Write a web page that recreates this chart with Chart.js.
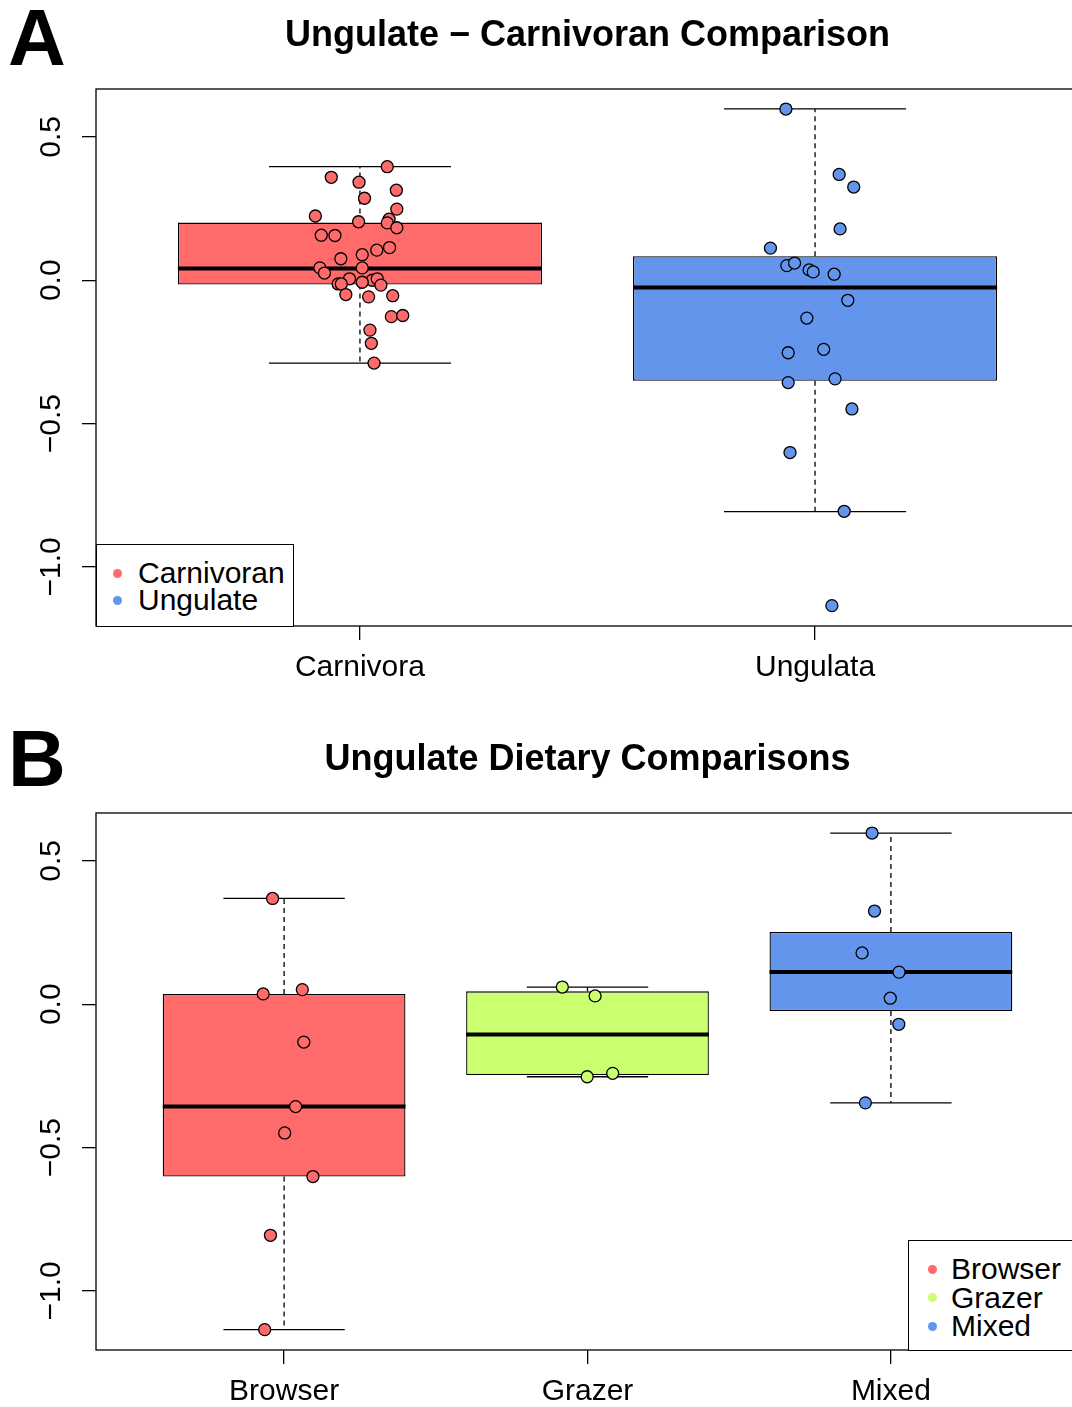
<!DOCTYPE html>
<html>
<head>
<meta charset="utf-8">
<script src="https://cdn.jsdelivr.net/npm/chart.js@4.4.0/dist/chart.umd.min.js"></script>
<style>
  html, body { margin: 0; padding: 0; background: #fff; width: 1072px; height: 1407px; overflow: hidden; }
  body { position: relative; font-family: "Liberation Sans", Arial, sans-serif; }
  .panel { position: absolute; left: 0; width: 1175px; height: 710px; }
  #panelA { top: 0; }
  #panelB { top: 724px; }
  .letter { position: absolute; left: 8px; font-weight: bold; font-size: 80px; line-height: 1; }
  .legend { position: absolute; box-sizing: border-box; border: 1.3px solid #000; background: #fff; }
  .legend span { position: absolute; white-space: nowrap; }
  .legend .txt { font-size: 30px; line-height: 30px; }
  .legend .dot { width: 9px; height: 9px; border-radius: 50%; }
</style>
</head>
<body>
<div class="letter" style="top:-2px">A</div>
<div class="letter" style="top:719px">B</div>
<div class="panel" id="panelA"><canvas id="chartA"></canvas></div>
<div class="panel" id="panelB"><canvas id="chartB"></canvas></div>
<div class="legend" id="legA"></div>
<div class="legend" id="legB"></div>
<script>
// ---- panel A: carnivoran vs ungulate ----
const groupCats = ['Carnivora', 'Ungulata'];
const groupNames = ['Carnivoran', 'Ungulate'];
const groupColors = ['#FF6A6A', '#6495ED'];
const groupMin = [-0.289, -0.807];
const groupQ1 = [-0.015, -0.351];
const groupMed = [0.041, -0.025];
const groupQ3 = [0.201, 0.084];
const groupMax = [0.396, 0.598];

const carnivoraVals = [0.396, 0.359, 0.342, 0.314, 0.286, 0.248, 0.224, 0.204, 0.213, 0.200,
  0.183, 0.157, 0.156, 0.114, 0.105, 0.089, 0.075, 0.043, 0.043, 0.025,
  0.005, 0.000, 0.005, -0.013, -0.013, -0.007, -0.017, -0.050, -0.058, -0.054,
  -0.127, -0.123, -0.174, -0.220, -0.289];
const carnivoraJit = [0.060, -0.063, -0.002, 0.080, 0.010, 0.081, -0.098, -0.003, 0.064, 0.060,
  0.081, -0.085, -0.055, 0.065, 0.037, 0.005, -0.042, 0.005, -0.088, -0.078,
  -0.023, 0.027, 0.038, -0.048, -0.041, 0.005, 0.046, -0.031, 0.019, 0.072,
  0.069, 0.094, 0.022, 0.025, 0.031];
const ungulataVals = [0.597, 0.369, 0.325, 0.179, 0.112, 0.051, 0.060, 0.036, 0.029, 0.021,
  -0.070, -0.132, -0.241, -0.253, -0.357, -0.344, -0.449, -0.601, -0.806, -1.135];
const ungulataJit = [-0.064, 0.053, 0.085, 0.055, -0.098, -0.062, -0.045, -0.013, -0.004, 0.042,
  0.072, -0.018, 0.019, -0.059, -0.059, 0.044, 0.081, -0.055, 0.064, 0.037];

// ---- panel B: ungulate diets ----
const dietCats = ['Browser', 'Grazer', 'Mixed'];
const dietColors = ['#FF6A6A', '#CAFF70', '#6495ED'];
const dietMin = [-1.135, -0.253, -0.344];
const dietQ1 = [-0.601, -0.247, -0.024];
const dietMed = [-0.357, -0.106, 0.112];
const dietQ3 = [0.036, 0.045, 0.252];
const dietMax = [0.369, 0.060, 0.597];

const browserVals = [0.369, 0.036, 0.051, -0.132, -0.357, -0.449, -0.601, -0.806, -1.135];
const browserJit = [-0.038, -0.069, 0.060, 0.065, 0.038, 0.002, 0.095, -0.045, -0.064];
const grazerVals = [0.060, 0.029, -0.253, -0.241];
const grazerJit = [-0.083, 0.025, -0.001, 0.083];
const mixedVals = [0.597, 0.325, 0.179, 0.112, 0.021, -0.070, -0.344];
const mixedJit = [-0.062, -0.054, -0.095, 0.027, -0.002, 0.026, -0.084];

const yTicks = [-1.0, -0.5, 0.0, 0.5];
const yMin = -1.206, yMax = 0.667;

Chart.defaults.font.family = "'Liberation Sans', Arial, sans-serif";
Chart.defaults.color = '#000';

const fmt = v => (v < 0 ? '\u2212' : '') + Math.abs(v).toFixed(1);

// whiskers, caps and medians, drawn right after the boxes (dataset 0)
function boxPlugin(st) {
  return {
    id: 'boxWhiskers',
    afterDatasetDraw(chart, args) {
      if (args.index !== 0) return;
      const { ctx, scales: { x, y } } = chart;
      const seg = (x1, y1, x2, y2) => { ctx.beginPath(); ctx.moveTo(x1, y1); ctx.lineTo(x2, y2); ctx.stroke(); };
      ctx.save();
      ctx.strokeStyle = '#000';
      st.med.forEach((m, i) => {
        const c = i + 1;
        const px = x.getPixelForValue(c);
        ctx.lineWidth = 1.3;
        ctx.setLineDash([5, 4]);
        seg(px, y.getPixelForValue(st.q3[i]), px, y.getPixelForValue(st.max[i]));
        seg(px, y.getPixelForValue(st.q1[i]), px, y.getPixelForValue(st.min[i]));
        ctx.setLineDash([]);
        seg(x.getPixelForValue(c - 0.2), y.getPixelForValue(st.max[i]), x.getPixelForValue(c + 0.2), y.getPixelForValue(st.max[i]));
        seg(x.getPixelForValue(c - 0.2), y.getPixelForValue(st.min[i]), x.getPixelForValue(c + 0.2), y.getPixelForValue(st.min[i]));
        ctx.lineWidth = 4;
        seg(x.getPixelForValue(c - 0.4), y.getPixelForValue(m), x.getPixelForValue(c + 0.4), y.getPixelForValue(m));
      });
      ctx.restore();
    }
  };
}

const framePlugin = {
  id: 'frame',
  beforeDatasetsDraw(chart) {
    const { ctx, chartArea: a } = chart;
    ctx.save();
    ctx.strokeStyle = '#000';
    ctx.lineWidth = 1.3;
    ctx.strokeRect(a.left, a.top, a.right - a.left, a.bottom - a.top);
    ctx.restore();
  }
};

function makePanel(id, title, cats, colors, st, points) {
  const n = cats.length;
  const pad = 0.04 * n;
  const datasets = [{
    type: 'bar',
    order: 2,
    data: cats.map((c, i) => ({ x: i + 1, y: [st.q1[i], st.q3[i]] })),
    backgroundColor: colors,
    borderColor: '#000',
    borderWidth: 1.3,
    borderSkipped: false,
    barPercentage: 0.8,
    categoryPercentage: 1.0
  }];
  points.forEach((g, i) => {
    datasets.push({
      type: 'scatter',
      order: 1,
      data: g.vals.map((v, j) => ({ x: i + 1 + g.jit[j], y: v })),
      backgroundColor: colors[i],
      borderColor: '#000',
      borderWidth: 1.3,
      pointRadius: 6
    });
  });
  const tickGrid = { drawOnChartArea: false, drawTicks: true, tickLength: 14, color: '#000', lineWidth: 1.3, offset: false };
  return new Chart(document.getElementById(id), {
    type: 'bar',
    data: { datasets },
    options: {
      responsive: true,
      maintainAspectRatio: false,
      animation: false,
      events: [],
      layout: { padding: 0 },
      plugins: {
        legend: { display: false },
        tooltip: { enabled: false },
        title: {
          display: true, text: title, color: '#000',
          font: { size: 36, weight: 'bold' },
          padding: { top: 14, bottom: 31.8 }
        }
      },
      scales: {
        x: {
          type: 'linear', min: 0.5 - pad, max: n + 0.5 + pad, offset: false,
          afterBuildTicks: s => { s.ticks = cats.map((c, i) => ({ value: i + 1 })); },
          afterFit: s => { s.height = 84; },
          ticks: { callback: (v, i) => cats[i], font: { size: 30 }, padding: 10, maxRotation: 0, autoSkip: false },
          grid: tickGrid,
          border: { display: false }
        },
        y: {
          type: 'linear', min: yMin, max: yMax,
          afterBuildTicks: s => { s.ticks = yTicks.map(v => ({ value: v })); },
          afterFit: s => { s.width = 96; },
          ticks: { callback: v => fmt(v), font: { size: 30 }, minRotation: 90, maxRotation: 90, crossAlign: 'center', padding: 1 },
          grid: tickGrid,
          border: { display: false }
        },
        y2: {
          type: 'linear', position: 'right', display: true,
          ticks: { display: false }, grid: { display: false }, border: { display: false },
          afterFit: s => { s.width = 96; }
        }
      }
    },
    plugins: [framePlugin, boxPlugin(st)]
  });
}

makePanel('chartA', 'Ungulate \u2212 Carnivoran Comparison', groupCats, groupColors,
  { min: groupMin, q1: groupQ1, med: groupMed, q3: groupQ3, max: groupMax },
  [{ vals: carnivoraVals, jit: carnivoraJit }, { vals: ungulataVals, jit: ungulataJit }]);

makePanel('chartB', 'Ungulate Dietary Comparisons', dietCats, dietColors,
  { min: dietMin, q1: dietQ1, med: dietMed, q3: dietQ3, max: dietMax },
  [{ vals: browserVals, jit: browserJit }, { vals: grazerVals, jit: grazerJit }, { vals: mixedVals, jit: mixedJit }]);

// R-style legends inside the plot frame
function legend(id, box, labels, colors, rowY, gap, dotX, textX) {
  const el = document.getElementById(id);
  Object.assign(el.style, { left: box[0] + 'px', top: box[1] + 'px', width: box[2] + 'px', height: box[3] + 'px' });
  labels.forEach((lab, i) => {
    const cy = rowY + i * gap - box[1];
    const dot = document.createElement('span');
    dot.className = 'dot';
    dot.style.background = colors[i];
    dot.style.left = (dotX - box[0] - 4.5) + 'px';
    dot.style.top = (cy - 4.5) + 'px';
    const t = document.createElement('span');
    t.className = 'txt';
    t.textContent = lab;
    t.style.left = (textX - box[0]) + 'px';
    t.style.top = (cy - 15) + 'px';
    el.appendChild(dot);
    el.appendChild(t);
  });
}
legend('legA', [96, 544, 198, 83], groupNames, groupColors, 572, 27, 116, 137);
legend('legB', [908, 1240, 180, 111], dietCats, dietColors, 1268, 28.5, 931, 950);
</script>
</body>
</html>
